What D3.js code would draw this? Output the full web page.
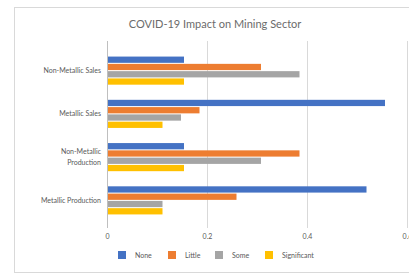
<!DOCTYPE html>
<html><head><meta charset="utf-8">
<script src="https://cdn.jsdelivr.net/npm/d3@7"></script>
<style>html,body{margin:0;padding:0;background:#fff;overflow:hidden}svg{display:block}</style>
</head><body>
<script>
const categories = ["Non-Metallic Sales", "Metallic Sales", "Non-Metallic Production", "Metallic Production"];
const seriesNames = ["None", "Little", "Some", "Significant"];
const noneValues = [0.154, 0.556, 0.154, 0.519];
const littleValues = [0.308, 0.185, 0.385, 0.259];
const someValues = [0.385, 0.148, 0.308, 0.111];
const significantValues = [0.154, 0.111, 0.154, 0.111];
const tickValues = [0, 0.2, 0.4, 0.6];
const tickLabels = ["0", "0.2", "0.4", "0.6"];
const title = "COVID-19 Impact on Mining Sector";
const colors = ["#4472C4", "#ED7D31", "#A5A5A5", "#FFC000"];

const seriesValues = [noneValues, littleValues, someValues, significantValues];
const W = 409, H = 276;
const font = "Lato, 'Open Sans', 'Liberation Sans', sans-serif";
const svg = d3.select("body").append("svg").attr("width", W).attr("height", H);

svg.append("rect").attr("x", 14.5).attr("y", 7.5).attr("width", 420).attr("height", 265)
  .attr("fill", "#fff").attr("stroke", "#d9d9d9");

svg.append("text").attr("x", 215).attr("y", 28).attr("text-anchor", "middle")
  .attr("font-family", font).attr("font-size", 11).attr("fill", "#6b6b6b").text(title);

const plotTop = 41, plotBottom = 228;
const x = d3.scaleLinear().domain([0, 0.6]).range([107, 407]);
const y = d3.scaleBand().domain(categories).range([49, 222]).paddingInner(0.35).paddingOuter(0.175);
const yi = d3.scaleBand().domain(seriesNames).range([0, y.bandwidth()]).paddingInner(0.14);

// gridlines
svg.append("g").selectAll("line").data(tickValues.slice(1)).join("line")
  .attr("x1", d => Math.round(x(d)) + 0.5).attr("x2", d => Math.round(x(d)) + 0.5)
  .attr("y1", plotTop).attr("y2", plotBottom).attr("stroke", "#d9d9d9");

// bars
const groups = svg.append("g").selectAll("g").data(categories).join("g")
  .attr("transform", c => `translate(0,${y(c)})`);
groups.selectAll("rect").data((c, ci) => seriesNames.map((s, si) => ({s, si, v: seriesValues[si][ci]})))
  .join("rect")
  .attr("x", x(0)).attr("y", d => yi(d.s)).attr("height", yi.bandwidth())
  .attr("width", d => x(d.v) - x(0)).attr("fill", d => colors[d.si]);

// y axis line
svg.append("line").attr("x1", 107.5).attr("x2", 107.5).attr("y1", plotTop).attr("y2", plotBottom)
  .attr("stroke", "#bfbfbf");

// x axis tick labels
const xAxis = d3.axisBottom(x).tickValues(tickValues).tickFormat((d, i) => tickLabels[i]).tickSize(0);
const gx = svg.append("g").attr("transform", `translate(0,${plotBottom + 3})`).call(xAxis);
gx.select(".domain").remove();
gx.selectAll("text").attr("font-family", font).attr("font-size", 7).attr("fill", "#595959");

// category labels
const gy = svg.append("g");
categories.forEach(c => {
  const lines = c === "Non-Metallic Production" ? ["Non-Metallic", "Production"] : [c];
  const cy = y(c) + y.bandwidth() / 2;
  const t = gy.append("text").attr("text-anchor", "end").attr("font-family", font)
    .attr("font-size", 7).attr("fill", "#595959");
  lines.forEach((l, i) => {
    t.append("tspan").attr("x", 101).attr("y", cy + 2.5 + (i - (lines.length - 1) / 2) * 11).text(l);
  });
});

// legend
const legendX = [118, 168, 215, 265];
const lg = svg.append("g").selectAll("g").data(seriesNames).join("g")
  .attr("transform", (d, i) => `translate(${legendX[i]},251)`);
lg.append("rect").attr("width", 8).attr("height", 8).attr("fill", (d, i) => colors[i]);
lg.append("text").attr("x", 17).attr("y", 6.5).attr("font-family", font).attr("font-size", 7)
  .attr("fill", "#595959").text(d => d);
</script>
</body></html>
